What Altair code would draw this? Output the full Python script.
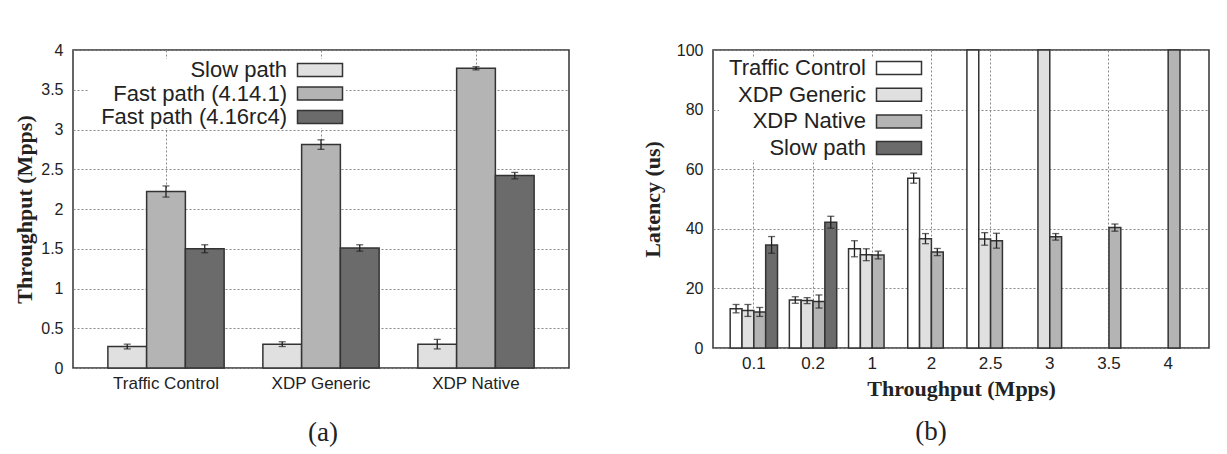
import altair as alt
import pandas as pd

# ---------------- (a) throughput per datapath ----------------
datapaths = ["Traffic Control", "XDP Generic", "XDP Native"]
tput_series = ["Slow path", "Fast path (4.14.1)", "Fast path (4.16rc4)"]
tput_colors = ["#e0e0e0", "#b4b4b4", "#6b6b6b"]

slow_tput = [0.27, 0.30, 0.30]
slow_tput_err = [0.03, 0.03, 0.06]
fast_4141_tput = [2.22, 2.81, 3.77]
fast_4141_err = [0.07, 0.06, 0.02]
fast_416_tput = [1.50, 1.51, 2.42]
fast_416_err = [0.05, 0.04, 0.04]

# ---------------- (b) latency vs. offered load ----------------
offered_rates = ["0.1", "0.2", "1", "2", "2.5", "3", "3.5", "4"]
lat_series = ["Traffic Control", "XDP Generic", "XDP Native", "Slow path"]
lat_colors = ["#ffffff", "#e0e0e0", "#b4b4b4", "#6b6b6b"]

# None = not measured; values above 100 run off the top of the axis
tc_lat = [13.2, 16.1, 33.3, 57.0, 140.0, None, None, None]
tc_lat_err = [1.4, 1.1, 2.7, 1.7, None, None, None, None]
generic_lat = [12.6, 15.9, 31.3, 36.7, 36.6, 140.0, None, None]
generic_lat_err = [2.0, 1.0, 2.0, 1.7, 2.1, None, None, None]
native_lat = [12.1, 15.6, 31.2, 32.2, 36.0, 37.3, 40.4, 140.0]
native_lat_err = [1.5, 2.2, 1.3, 1.2, 2.5, 1.1, 1.2, None]
slow_lat = [34.6, 42.2, None, None, None, None, None, None]
slow_lat_err = [2.8, 2.0, None, None, None, None, None, None]


def long_table(cats, series_names, values, errors):
    rows = []
    for name, vals, errs in zip(series_names, values, errors):
        for cat, v, e in zip(cats, vals, errs):
            if v is None:
                continue
            rows.append({"cat": cat, "series": name, "value": v,
                         "lo": None if e is None else v - e,
                         "hi": None if e is None else v + e})
    return pd.DataFrame(rows)


df_a = long_table(datapaths, tput_series,
                  [slow_tput, fast_4141_tput, fast_416_tput],
                  [slow_tput_err, fast_4141_err, fast_416_err])
df_b = long_table(offered_rates, lat_series,
                  [tc_lat, generic_lat, native_lat, slow_lat],
                  [tc_lat_err, generic_lat_err, native_lat_err, slow_lat_err])

SANS = "Liberation Sans"
SERIF = "Liberation Serif"
INK = "#222222"
BOX_PATH = "M-11.25,-3.25H11.25V3.25H-11.25Z"


def bar_legend(x, y, sym_offset, row_pad):
    # labels are right-aligned and pulled back so the swatch sits to their right
    return alt.Legend(
        title=None, orient="none", legendX=x, legendY=y,
        direction="vertical",
        labelAlign="right", labelOffset={"expr": "-44"},
        symbolOffset=sym_offset,
        symbolType=BOX_PATH, symbolSize=16,
        symbolStrokeColor="#333333", symbolStrokeWidth=1.5,
        labelFont=SANS, labelFontSize=22, labelColor=INK, labelLimit=400,
        rowPadding=row_pad,
        fillColor="white", padding=0,
    )


def panel(df, cats, series_names, colors, y_domain, y_step, y_title,
          x_title, pad_inner, pad_outer, legend, height, ytitle_pad):
    x_axis = alt.Axis(
        title=x_title, labelAngle=0, grid=True, bandPosition=0.5,
        labelFontSize=17, labelPadding=7, titlePadding=7,
    )
    x_scale = alt.Scale(domain=cats, paddingInner=pad_inner, paddingOuter=pad_outer)
    y_ticks = [round(y_domain[0] + i * y_step, 6)
               for i in range(int(round((y_domain[1] - y_domain[0]) / y_step)) + 1)]
    y_scale = alt.Scale(domain=y_domain, nice=False, clamp=True)
    y_axis = alt.Axis(title=y_title, values=y_ticks, format=".2~f", grid=True,
                      labelOverlap=False, labelFontSize=16, labelPadding=10,
                      titlePadding=ytitle_pad)

    def x_enc():
        return alt.X("cat:N", sort=cats, scale=x_scale, axis=x_axis)

    def y_enc(field):
        return alt.Y(field, scale=y_scale, axis=y_axis)

    x_off = alt.XOffset("series:N", sort=series_names,
                        scale=alt.Scale(domain=series_names))

    base = alt.Chart(df)
    bars = base.mark_bar(stroke="#333333", strokeWidth=1.5).encode(
        x=x_enc(),
        xOffset=x_off,
        y=y_enc("value:Q"),
        color=alt.Color("series:N", sort=series_names,
                        scale=alt.Scale(domain=series_names, range=colors),
                        legend=legend),
    )
    err = base.transform_filter("isValid(datum.lo)")
    stems = err.mark_rule(color=INK, strokeWidth=1.3).encode(
        x=x_enc(), xOffset=x_off, y=y_enc("lo:Q"), y2="hi:Q",
    )
    cap_lo = err.mark_tick(color=INK, thickness=1.3, size=7).encode(
        x=x_enc(), xOffset=x_off, y=y_enc("lo:Q"),
    )
    cap_hi = err.mark_tick(color=INK, thickness=1.3, size=7).encode(
        x=x_enc(), xOffset=x_off, y=y_enc("hi:Q"),
    )
    return alt.layer(bars, stems, cap_lo, cap_hi).properties(width=496, height=height)


left = panel(df_a, datapaths, tput_series, tput_colors, [0, 4], 0.5,
             "Throughput (Mpps)", None, 0.25, 0.225,
             bar_legend(16, 9, 220, 1.5), 318, 4).properties(
    title=alt.TitleParams("(a)", orient="bottom", anchor="middle", frame="group",
                          dx=2, offset=29, font=SERIF, fontSize=27,
                          fontWeight="normal", color=INK))

right = panel(df_b, offered_rates, lat_series, lat_colors, [0, 100], 20,
              "Latency (us)", "Throughput (Mpps)", 0.2, 0.29,
              bar_legend(6, 7, 169, 4.7), 298, 12).properties(
    title=alt.TitleParams("(b)", orient="bottom", anchor="middle", frame="group",
                          dx=-30, offset=20, font=SERIF, fontSize=27,
                          fontWeight="normal", color=INK))

chart = (
    alt.hconcat(left, right, spacing=70)
    .resolve_scale(color="independent", x="independent", y="independent",
                   xOffset="independent")
    .resolve_legend(color="independent")
    .properties(padding={"left": 13, "top": 41, "right": 5, "bottom": 5},
                background="white")
    .configure_view(stroke="#333333", strokeWidth=1.5)
    .configure_axis(
        domain=False, ticks=False,
        labelFont=SANS, labelColor=INK,
        titleFont=SERIF, titleFontSize=22, titleFontWeight="bold", titleColor=INK,
        gridColor="#888888", gridDash=[2, 2], gridWidth=1, gridOpacity=1,
    )
)

chart.save("out.html", embed_options={"renderer": "svg", "actions": False})
